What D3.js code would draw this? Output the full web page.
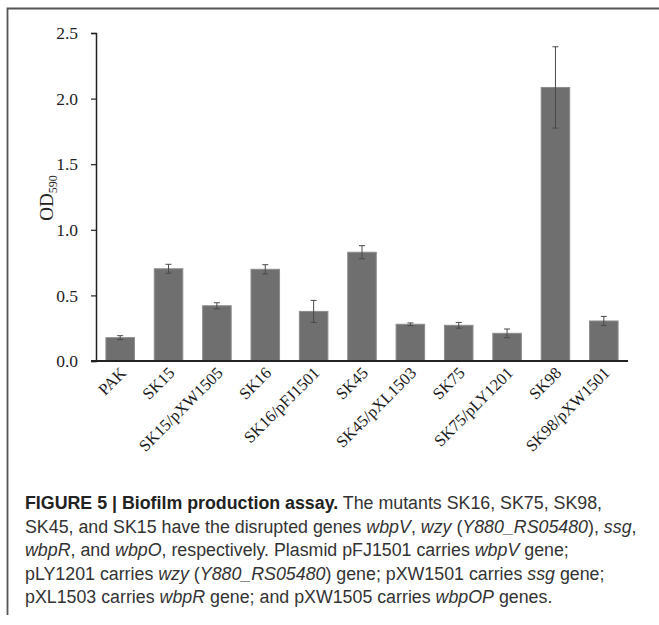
<!DOCTYPE html>
<html>
<head>
<meta charset="utf-8">
<script src="https://cdn.jsdelivr.net/npm/d3@7"></script>
<style>
  body { margin: 0; background: #fff; }
  svg { display: block; }
  .tick text { font-family: "Liberation Serif", serif; }
</style>
</head>
<body>
<svg id="fig" width="659" height="625"></svg>
<script>
// data
const strains = ["PAK", "SK15", "SK15/pXW1505", "SK16", "SK16/pFJ1501", "SK45",
    "SK45/pXL1503", "SK75", "SK75/pLY1201", "SK98", "SK98/pXW1501"];
const od590 = [0.178, 0.703, 0.421, 0.699, 0.378, 0.829, 0.280, 0.272, 0.211, 2.085, 0.305];
const errs = [0.015, 0.034, 0.023, 0.035, 0.084, 0.050, 0.010, 0.022, 0.033, 0.310, 0.035];
const yTicks = [0, 0.5, 1.0, 1.5, 2.0, 2.5];

const svg = d3.select("#fig");

// frame around figure
svg.append("path")
    .attr("d", "M7.5,615 L7.5,8.5 L659,8.5")
    .attr("fill", "none")
    .attr("stroke", "#555")
    .attr("stroke-width", 1.8);

const margin = { left: 96, top: 33, right: 31, bottom: 264 };
const x = d3.scaleBand()
    .domain(strains)
    .range([margin.left, 659 - margin.right])
    .paddingInner(0.41)
    .paddingOuter(0.205);

const y = d3.scaleLinear()
    .domain([0, 2.5])
    .range([361, margin.top]);

// bars
svg.append("g").selectAll("rect")
    .data(strains)
    .enter().append("rect")
    .attr("x", d => x(d))
    .attr("y", (d, i) => y(od590[i]))
    .attr("width", x.bandwidth())
    .attr("height", (d, i) => y(0) - y(od590[i]))
    .attr("fill", "#6f6f6f")
    .attr("stroke", "#8c8c8c")
    .attr("stroke-width", 1);

// error bars
const eb = svg.append("g").attr("stroke", "#4a4a4a").attr("stroke-width", 1);
strains.forEach((d, i) => {
    const cx = x(d) + x.bandwidth() / 2;
    const lo = y(od590[i] - errs[i]), hi = y(od590[i] + errs[i]);
    eb.append("line").attr("x1", cx).attr("x2", cx).attr("y1", lo).attr("y2", hi);
    eb.append("line").attr("x1", cx - 3).attr("x2", cx + 3).attr("y1", lo).attr("y2", lo);
    eb.append("line").attr("x1", cx - 3).attr("x2", cx + 3).attr("y1", hi).attr("y2", hi);
});

// y axis
const yAxis = svg.append("g")
    .attr("transform", "translate(" + margin.left + ",0)")
    .call(d3.axisLeft(y).tickValues(yTicks).tickFormat(d3.format(".1f")).tickSize(5).tickPadding(13));
yAxis.select(".domain").attr("stroke", "#222").attr("stroke-width", 1.5);
yAxis.selectAll(".tick line").attr("stroke", "#222").attr("stroke-width", 1.2);
yAxis.selectAll(".tick text").attr("font-size", 17.5).attr("fill", "#222");

// x axis
const xAxis = svg.append("g")
    .attr("transform", "translate(0," + y(0) + ")")
    .call(d3.axisBottom(x).tickSize(0).tickPadding(0));
xAxis.select(".domain").attr("stroke", "#222").attr("stroke-width", 2)
    .attr("d", "M" + (margin.left - 5) + ",0H" + (659 - margin.right));
xAxis.selectAll(".tick text")
    .attr("font-size", 16.5)
    .attr("fill", "#1a1a1a")
    .attr("text-anchor", "end")
    .attr("dy", null)
    .attr("y", null)
    .attr("transform", "translate(7,13) rotate(-45)");

// y label
svg.append("text")
    .attr("transform", "translate(53,198) rotate(-90)")
    .attr("text-anchor", "middle")
    .attr("font-family", "Liberation Serif, serif")
    .attr("font-size", 19)
    .attr("fill", "#222")
    .html('OD<tspan font-size="12" dy="4">590</tspan>');

// caption
const captionLines = [
    [["b", "FIGURE 5 | Biofilm production assay."], ["n", " The mutants SK16, SK75, SK98,"]],
    [["n", "SK45, and SK15 have the disrupted genes "], ["i", "wbpV"], ["n", ", "], ["i", "wzy"], ["n", " ("], ["i", "Y880_RS05480"], ["n", "), "], ["i", "ssg"], ["n", ","]],
    [["i", "wbpR"], ["n", ", and "], ["i", "wbpO"], ["n", ", respectively. Plasmid pFJ1501 carries "], ["i", "wbpV"], ["n", " gene;"]],
    [["n", "pLY1201 carries "], ["i", "wzy"], ["n", " ("], ["i", "Y880_RS05480"], ["n", ") gene; pXW1501 carries "], ["i", "ssg"], ["n", " gene;"]],
    [["n", "pXL1503 carries "], ["i", "wbpR"], ["n", " gene; and pXW1505 carries "], ["i", "wbpOP"], ["n", " genes."]]
];

const cap = svg.append("g")
    .attr("font-family", "Liberation Sans, Arial, sans-serif")
    .attr("font-size", 16)
    .attr("fill", "#333");

const capTexts = captionLines.map((line, li) => {
    const t = cap.append("text")
        .attr("x", 25)
        .attr("y", 509 + li * 23.5);
    line.forEach(seg => {
        const ts = t.append("tspan").text(seg[1]);
        if (seg[0] === "b") ts.attr("font-weight", "bold").attr("fill", "#222");
        if (seg[0] === "i") ts.attr("font-style", "italic");
    });
    return t;
});

// the second line runs to about x=637 in the figure; size the caption to fit
const w2 = capTexts[1].node().getComputedTextLength();
cap.attr("font-size", 16 * 612 / w2);
</script>
</body>
</html>
